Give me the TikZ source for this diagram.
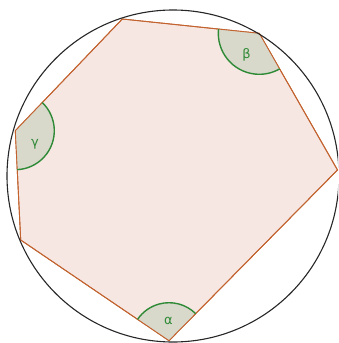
\documentclass[tikz,border=0pt]{standalone}
\usepackage{fontspec}
\newfontfamily\lblfont{DejaVu Sans}
\usetikzlibrary{angles}
\definecolor{polyfill}{HTML}{F6E7E3}
\definecolor{polyedge}{HTML}{C2622E}
\definecolor{anglefill}{HTML}{D8D8CB}
\definecolor{anglegreen}{HTML}{2F8A36}
\tikzset{
  edge/.style={draw=polyedge, line width=0.9pt, fill=polyfill, line join=miter},
  ring/.style={draw=black!85, line width=1.1pt},
  angfill/.style={fill=anglefill, draw=none},
  angarc/.style={draw=anglegreen, line width=1.4pt},
  lbl/.style={text=anglegreen, font=\lblfont\fontsize{13}{15}\selectfont, inner sep=0pt}
}
\begin{document}
\begin{tikzpicture}[x=1pt,y=-1pt]
\useasboundingbox (0,0) rectangle (338,343);
\begin{scope}
\clip (0,0) rectangle (338,343);
\coordinate (T) at (122.3,19);
\coordinate (B) at (259.3,33.3);
\coordinate (R) at (337.5,170);
\coordinate (A) at (169,340.7);
\coordinate (L) at (20.7,240);
\coordinate (G) at (15.3,130.7);
\coordinate (O) at (173,176);
\path[edge] (T) -- (B) -- (R) -- (A) -- (L) -- (G) -- cycle;
\pic[angfill, angle radius=38pt] {angle = R--A--L};
\pic[angfill, angle radius=41pt] {angle = T--B--R};
\pic[angfill, angle radius=39pt] {angle = L--G--T};
\draw[edge, fill=none] (T) -- (B) -- (R) -- (A) -- (L) -- (G) -- cycle;
\pic[angarc, angle radius=38pt] {angle = R--A--L};
\pic[angarc, angle radius=41pt] {angle = T--B--R};
\pic[angarc, angle radius=39pt] {angle = L--G--T};
\draw[ring] (O) circle[radius=166pt];
\end{scope}
\node[lbl] (la) at (168.5,321) {α};
\node[lbl] (lb) at (246.5,55) {β};
\node[lbl] (lg) at (35,144) {γ};
\end{tikzpicture}
\end{document}
